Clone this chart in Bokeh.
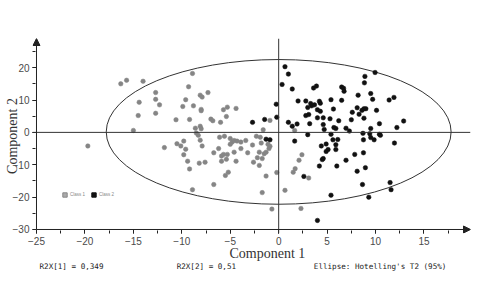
import math
from bokeh.plotting import figure
from bokeh.models import (SingleIntervalTicker, Span, Arrow, NormalHead, Title,
                          Legend, LegendItem)
from bokeh.embed import file_html
from bokeh.resources import INLINE

# ---- data ----
class1_x = [-16.3, -15.7, -14.0, -12.7, -12.7, -12.3, -14.4, -14.5, -12.7, -15.0,
            -8.9, -9.3, -9.6, -9.9, -8.8, -8.1, -7.9, -7.3, -8.0, -8.0,
            -9.2, -10.6, -7.0, -6.8, -6.0, -5.7, -5.3, -5.4, -4.4, -8.6,
            -8.1, -8.0, -8.5, -8.3, -8.1, -19.7, -11.8, -10.5, -10.1, -9.8,
            -9.6, -7.9, -6.1, -5.6, -6.2, -5.0, -4.8, -4.6, -4.3, -5.0,
            -9.8, -9.4, -9.2, -8.9, -8.2, -7.6, -6.7, -5.9, -5.7, -5.3,
            -5.9, -5.4, -5.5, -5.2, -6.7, -4.6, -4.4, -3.9, -3.4, -2.3,
            -1.9, -2.7, -1.8, -1.1, -0.9, -3.2, -2.6, -2.2, -2.0, -1.7,
            -1.5, -1.3, -1.0, -1.3, -1.7, -0.7, -0.2, 0.65, 1.5, 1.7,
            2.1, 2.4, 3.1, 2.3, -0.9, -1.6, 1.65, -3.9, -2.0]
class1_y = [15.0, 16.1, 15.8, 12.3, 10.2, 8.5, 9.3, 5.2, 5.9, 0.6,
            18.2, 14.1, 10.1, 8.0, 8.2, 11.5, 10.9, 12.3, 7.1, 6.7,
            4.0, 3.9, 4.1, 3.6, 3.1, 7.0, 7.8, 4.9, 7.4, 1.3,
            1.9, 1.1, -0.2, -0.9, -2.4, -4.2, -4.7, -3.5, -4.2, -2.7,
            -5.2, -4.2, -1.5, -1.2, -5.0, -1.9, -3.0, -2.5, -2.7, -3.7,
            -6.9, -8.9, -11.3, -17.7, -9.5, -9.2, -6.3, -7.3, -6.8, -6.8,
            -8.9, -8.3, -13.3, -12.3, -16.1, -6.1, -8.9, -3.0, -2.5, -1.2,
            -1.5, -3.9, -3.3, -3.7, -4.3, -6.3, -9.2, -7.8, -10.2, -8.1,
            -6.6, -6.1, -5.0, -13.5, -18.6, -23.7, -12.4, -17.9, -12.3, -11.2,
            -8.6, -6.9, -14.1, -23.5, 3.7, 0.8, 0.6, -5.0, -6.1]

class2_x = [0.65, 1.0, 0.35, 1.4, -0.25, -0.2, -1.45, -2.7, 1.0, 1.4,
            1.9, 1.65, 3.0, 2.0, 2.8, 3.3, 3.4, 3.7, 3.0, 4.2,
            4.3, 4.0, 4.3, 2.8, 3.1, 4.0, 4.6, 3.6, 3.9, 3.2,
            4.6, 4.7, 5.4, 5.65, 5.3, 5.7, 5.9, 6.2, 6.5, 6.7,
            6.75, 6.5, 6.95, 7.3, 7.6, 7.5, 8.2, 8.1, 8.3, 8.6,
            8.8, 9.0, 8.8, 8.9, 8.85, 9.95, 9.5, 9.7, 10.1, 10.4,
            9.5, 8.7, 9.4, 9.5, 9.85, 10.4, 10.5, 11.4, 11.9, 12.2,
            12.9, 11.95, 4.4, 4.9, 5.1, 5.6, 6.1, 5.9, 8.75, 2.6,
            4.5, 4.6, 4.2, 4.9, 6.0, 5.9, 6.95, 7.85, 8.75, 8.1,
            8.95, 8.65, 9.3, 5.4, 11.5, 11.6, 4.0, -1.3, -0.9, 5.4]
class2_y = [20.3, 18.0, 14.8, 13.4, 8.7, 4.7, 4.0, 3.1, 3.1, 1.9,
            2.6, -2.7, -0.7, 9.7, 9.7, 8.9, 8.2, 8.5, 7.7, 9.6,
            9.0, 7.0, 6.5, 5.2, 5.5, 4.5, 4.5, 13.7, 14.3, 2.7,
            2.4, 0.9, 10.1, 7.2, 4.2, 1.5, 1.2, 3.6, 14.0, 13.6,
            12.7, 9.9, 1.3, 0.4, 6.2, 3.9, 11.5, 7.6, 5.6, 6.8,
            7.3, 7.3, 4.4, 17.3, 15.3, 18.5, 12.0, 10.2, 6.8, 2.7,
            1.2, -0.3, -0.4, -1.6, -2.3, -0.6, -0.9, 10.0, 10.8, 1.5,
            3.5, -3.3, -4.2, -3.6, -5.3, -2.3, -2.2, -3.8, -2.3, -13.6,
            -8.4, -8.1, -10.4, -5.9, -10.4, -5.3, -8.6, -6.8, -6.3, -12.0,
            -10.9, -16.1, -20.0, -19.4, -15.5, -17.7, -27.2, -2.1, -2.3, -0.6]

class_labels = ["Class 1", "Class 2"]
x_axis_title = "Component 1"
y_axis_title = "Component 2"
footer_texts = ["R2X[1] = 0,349", "R2X[2] = 0,51", "Ellipse: Hotelling's T2 (95%)"]

# axis extents (data units) and Hotelling's T2 ellipse
x_min, x_max = -25, 19.8
y_min, y_max = -30, 29
ellipse_cx, ellipse_cy = 0.0, 0.15
ellipse_w, ellipse_h = 35.6, 44.7

GRAY = "#858585"
BLACK = "#111111"
AXIS = "#222222"

# the frame is a few pixels larger than the axes, so that ticks sit outside the axis lines
pad_x = 4 / 9.69
pad_y = 4 / 3.237

p = figure(width=478, height=290,
           x_range=(x_min - pad_x, x_max), y_range=(y_min - pad_y, y_max),
           output_backend="svg", toolbar_location=None,
           min_border_left=32, min_border_right=8, min_border_top=38,
           min_border_bottom=57)
p.outline_line_color = None
p.xgrid.visible = False
p.ygrid.visible = False
p.background_fill_color = "white"

for ax in (p.xaxis[0], p.yaxis[0]):
    ax.axis_line_color = None
    ax.major_tick_line_color = AXIS
    ax.minor_tick_line_color = AXIS
    ax.major_tick_in = 4
    ax.major_tick_out = 0
    ax.minor_tick_in = 3
    ax.minor_tick_out = 0
    ax.major_label_text_font = "Liberation Sans"
    ax.major_label_text_font_size = "10px"
    ax.major_label_text_color = "#4a4a4a"
p.xaxis.ticker = SingleIntervalTicker(interval=5, num_minor_ticks=2)
p.yaxis.ticker = SingleIntervalTicker(interval=10, num_minor_ticks=2)
p.xaxis.major_label_standoff = 3
p.yaxis.major_label_standoff = 3

p.yaxis.axis_label = y_axis_title
p.yaxis.axis_label_text_font = "Liberation Serif"
p.yaxis.axis_label_text_font_style = "normal"
p.yaxis.axis_label_text_font_size = "14px"
p.yaxis.axis_label_text_color = "#333333"
p.yaxis.axis_label_standoff = -10

# zero lines
p.add_layout(Span(location=0, dimension="width", line_color="#333333", line_width=1))
p.add_layout(Span(location=0, dimension="height", line_color="#333333", line_width=1))

# axis lines with arrow heads
p.add_layout(Arrow(end=NormalHead(size=7, fill_color=AXIS, line_color=AXIS),
                   x_start=x_min, y_start=y_min, x_end=x_min, y_end=y_max,
                   line_color=AXIS, line_width=1))
p.add_layout(Arrow(end=NormalHead(size=7, fill_color=AXIS, line_color=AXIS),
                   x_start=x_min, y_start=y_min, x_end=x_max, y_end=y_min,
                   line_color=AXIS, line_width=1))

# ellipse
p.ellipse(x=[ellipse_cx], y=[ellipse_cy], width=[ellipse_w], height=[ellipse_h],
          fill_color=None, line_color="#333333", line_width=1)

# points
p.scatter(class1_x, class1_y, size=4.5, fill_color=GRAY, line_color=GRAY, line_width=0.5)
p.scatter(class2_x, class2_y, size=4.5, fill_color=BLACK, line_color=BLACK, line_width=0.5)

# legend (square swatches; the swatch renderers hold no visible point)
nan = float("nan")
sq1 = p.scatter(x=[nan], y=[nan], marker="square", size=5, fill_color="#aaaaaa", line_color="#888888")
sq2 = p.scatter(x=[nan], y=[nan], marker="square", size=5, fill_color=BLACK, line_color=BLACK)
legend = Legend(items=[LegendItem(label=class_labels[0], renderers=[sq1]),
                       LegendItem(label=class_labels[1], renderers=[sq2])],
                location=(27, 33), orientation="horizontal",
                glyph_width=11, glyph_height=11, label_height=11, label_width=0,
                label_standoff=-2, spacing=3, padding=0, margin=0,
                border_line_color=None, background_fill_alpha=0,
                label_text_font="Liberation Sans", label_text_font_size="4.5px",
                label_text_color="#888888")
p.add_layout(legend)

# x title and footer as titles below the axis
p.add_layout(Title(text=x_axis_title, align="left", offset=197, vertical_align="top",
                   standoff=-3, text_font="Liberation Serif", text_font_size="14px",
                   text_font_style="normal", text_color="#333333"), "below")
nb = "\u00a0"
footer = (footer_texts[0] + nb * (30 - len(footer_texts[0])) +
          footer_texts[1] + nb * (30 - len(footer_texts[1])) + footer_texts[2])
p.add_layout(Title(text=footer, align="left", offset=7, vertical_align="top",
                   standoff=0, text_font="DejaVu Sans Mono", text_font_size="7.6px",
                   text_font_style="normal", text_color="#222222"), "below")

open("out.html", "w").write(file_html(p, INLINE))
